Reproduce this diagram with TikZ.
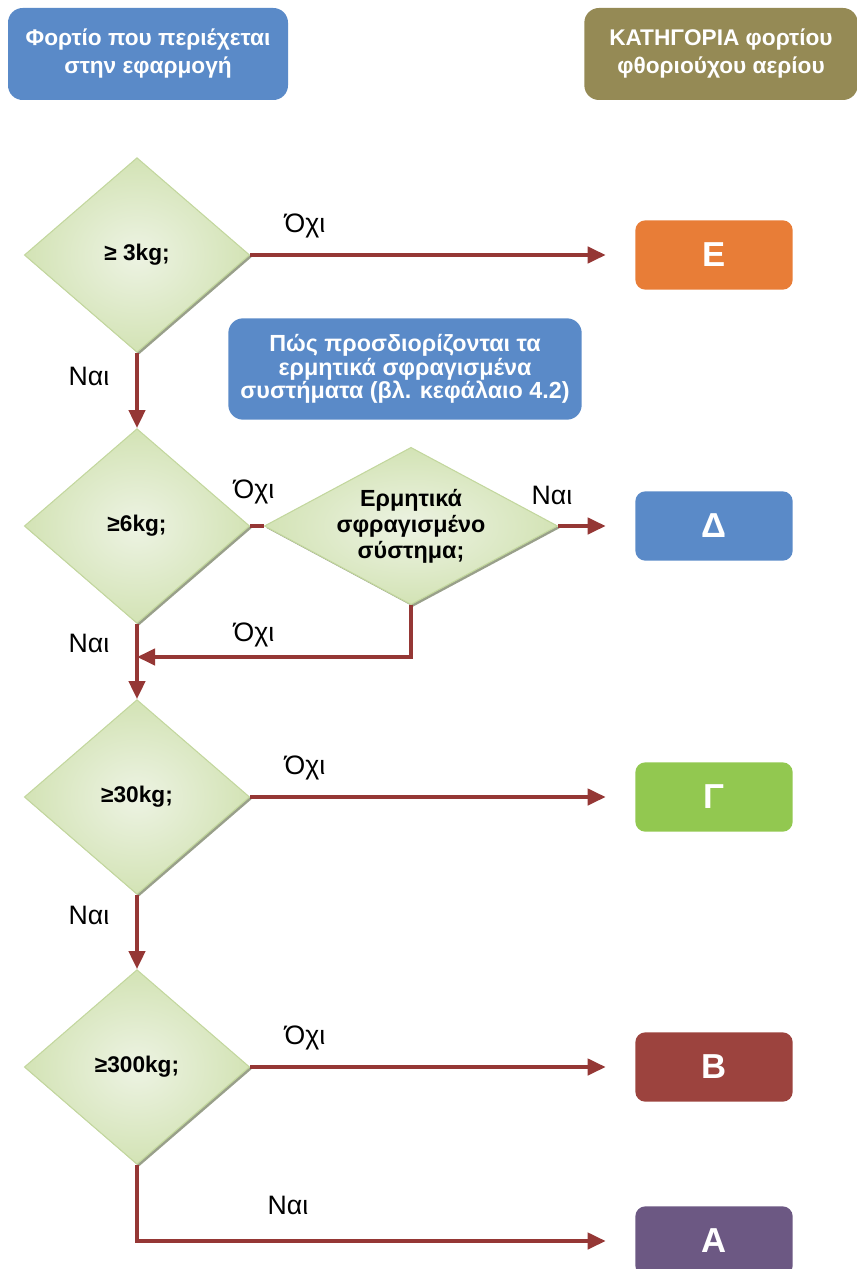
\documentclass[tikz,border=0pt]{standalone}
\usepackage{fontspec}
\setmainfont{Liberation Sans}
\usepackage{xcolor}
\usetikzlibrary{arrows.meta,shapes.geometric,shadows}

\definecolor{infoblue}{HTML}{5A8AC8}
\definecolor{olive}{HTML}{958A55}
\definecolor{catorange}{HTML}{E87D37}
\definecolor{catgreen}{HTML}{92C850}
\definecolor{catred}{HTML}{9C433E}
\definecolor{catpurple}{HTML}{6C5883}
\definecolor{flowred}{HTML}{953735}
\definecolor{dmdin}{HTML}{EDF3E3}
\definecolor{dmdout}{HTML}{D3E3B5}
\definecolor{dmdline}{HTML}{C3D79E}

\begin{document}
\begin{tikzpicture}[
  x=0.75pt, y=-0.75pt,
  every node/.style={font=\fontsize{15}{18}\selectfont},
  header/.style={rounded corners=11pt, text=white, align=center,
    font=\fontsize{17}{21}\selectfont\bfseries, minimum height=69pt},
  info/.style={rounded corners=11pt, fill=infoblue, text=white, align=center,
    font=\fontsize{17.5}{17.6}\selectfont\bfseries, minimum width=265pt, minimum height=76pt},
  cat/.style={rounded corners=7.5pt, text=white, font=\fontsize{26}{28}\selectfont\bfseries,
    minimum width=118pt, minimum height=52pt},
  decision/.style={diamond, draw=dmdline, line width=0.8pt, inner color=dmdin, outer color=dmdout,
    drop shadow={shadow xshift=1.6pt, shadow yshift=-1.6pt, fill=black!40!dmdout, opacity=0.8},
    font=\fontsize{17}{19.5}\selectfont\bfseries, align=center, inner sep=0pt,
    minimum width=169pt, minimum height=146pt},
  flow/.style={draw=flowred, line width=3pt, -{Triangle[length=13.5pt, width=12pt]}},
  link/.style={draw=flowred, line width=3pt},
  lbl/.style={font=\fontsize{20}{22}\selectfont},
]

\useasboundingbox (0,0) rectangle (856,1269);

% headers
\node[header, fill=infoblue, minimum width=210pt] (hdrload) at (148,54)
  {Φορτίο που περιέχεται\\στην εφαρμογή};
\node[header, fill=olive, minimum width=205pt] (hdrcat) at (721,54)
  {ΚΑΤΗΓΟΡΙΑ φορτίου\\φθοριούχου αερίου};

% decisions
\node[decision] (d3kg) at (137,255) {≥ 3kg;};
\node[decision] (d6kg) at (137,526) {≥6kg;};
\node[decision, aspect=1.85, minimum width=220pt, minimum height=118pt,
  font=\fontsize{17.5}{19.5}\selectfont\bfseries] (dherm) at (411,526)
  {Ερμητικά\\σφραγισμένο\\σύστημα;};
\node[decision] (d30kg) at (137,797) {≥30kg;};
\node[decision] (d300kg) at (137,1067) {≥300kg;};

\node[info] (howto) at (405,369)
  {Πώς προσδιορίζονται τα\\ερμητικά σφραγισμένα\\συστήματα (βλ. κεφάλαιο 4.2)};

% categories
\node[cat, fill=catorange] (catE) at (714,255) {Ε};
\node[cat, fill=infoblue] (catD) at (714,526) {Δ};
\node[cat, fill=catgreen] (catG) at (714,797) {Γ};
\node[cat, fill=catred] (catB) at (714,1067) {Β};
\node[cat, fill=catpurple] (catA) at (714,1241) {Α};

\coordinate (merge) at (137,657);

\draw[flow, shorten >=22pt] (d3kg.east) -- (catE.west);
\draw[flow] (d3kg.south) -- (d6kg.north);
\draw[link] (d6kg.east) -- (dherm.west);
\draw[flow, shorten >=22pt] (dherm.east) -- (catD.west);
\draw[flow] (dherm.south) |- (merge);
\draw[flow] (d6kg.south) -- (d30kg.north);
\draw[flow, shorten >=22pt] (d30kg.east) -- (catG.west);
\draw[flow] (d30kg.south) -- (d300kg.north);
\draw[flow, shorten >=22pt] (d300kg.east) -- (catB.west);
\draw[flow, shorten >=22pt] (d300kg.south) |- (catA.west);

% edge labels
\node[lbl] (no3) at (305,226) {Όχι};
\node[lbl] (yes3) at (89,376) {Ναι};
\node[lbl] (no6) at (254,492) {Όχι};
\node[lbl] (yesherm) at (552,495) {Ναι};
\node[lbl] (noherm) at (254,635) {Όχι};
\node[lbl] (yes6) at (89,643) {Ναι};
\node[lbl] (no30) at (305,768) {Όχι};
\node[lbl] (yes30) at (89,915) {Ναι};
\node[lbl] (no300) at (305,1038) {Όχι};
\node[lbl] (yes300) at (288,1205) {Ναι};

\end{tikzpicture}
\end{document}
